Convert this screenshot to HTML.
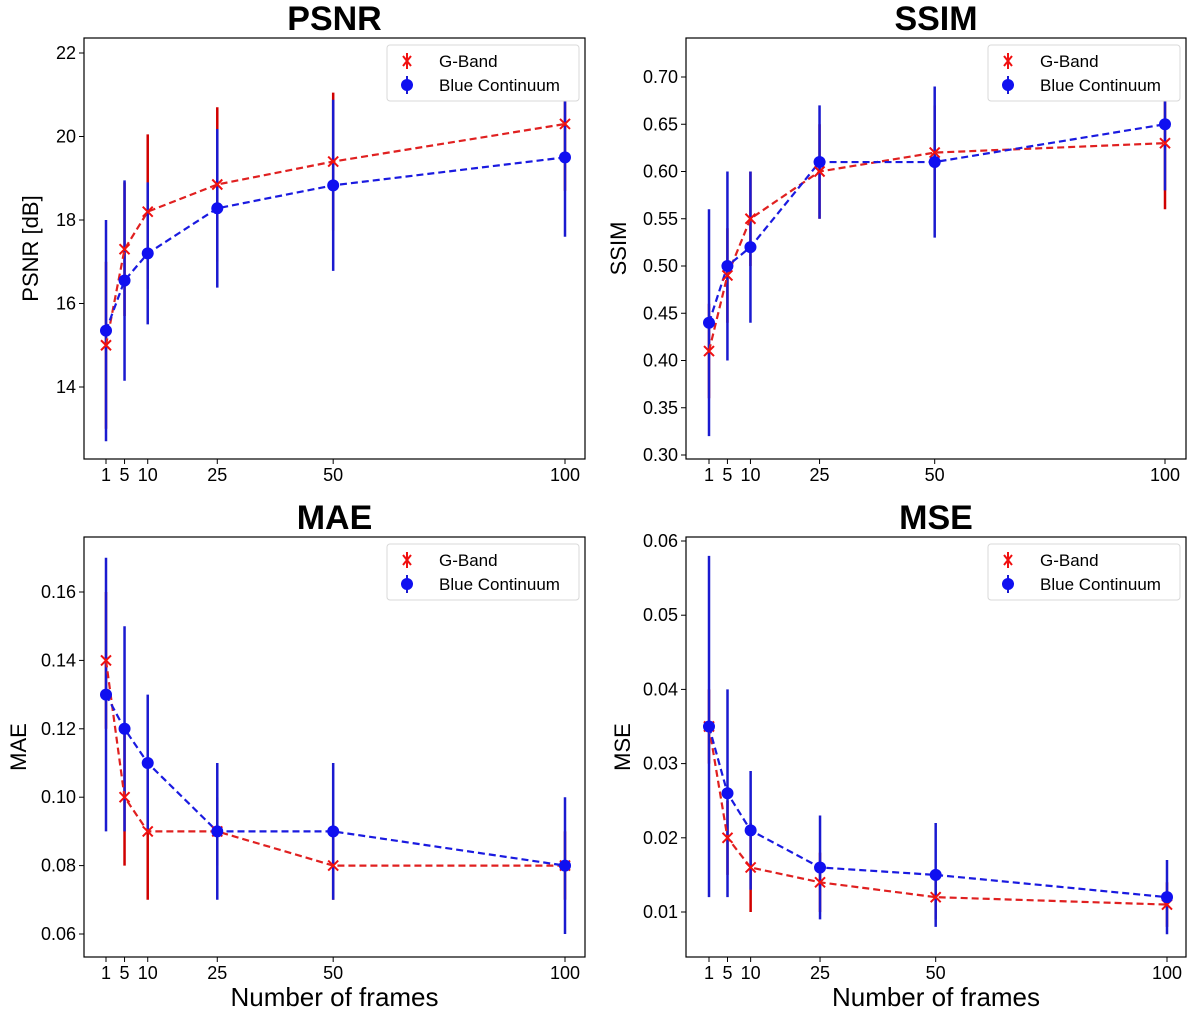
<!DOCTYPE html>
<html><head><meta charset="utf-8"><style>
body{margin:0;background:#fff;font-family:"Liberation Sans",sans-serif}
svg text{font-family:"Liberation Sans","DejaVu Sans",sans-serif}
</style></head><body>
<svg id="fig" width="1200" height="1018" viewBox="0 0 1200 1018" xmlns="http://www.w3.org/2000/svg"></svg>
<script>
const frames=[1,5,10,25,50,100];
const xTicks=[1,5,10,25,50,100];
const psnrG=[15.0,17.3,18.2,18.85,19.4,20.3];
const psnrGErr=[2.0,1.6,1.85,1.85,1.65,1.6];
const psnrB=[15.35,16.55,17.2,18.28,18.83,19.5];
const psnrBErr=[2.65,2.4,1.7,1.9,2.05,1.9];
const psnrTicks=[14,16,18,20,22];
const ssimG=[0.41,0.49,0.55,0.60,0.62,0.63];
const ssimGErr=[0.05,0.05,0.05,0.05,0.05,0.07];
const ssimB=[0.44,0.50,0.52,0.61,0.61,0.65];
const ssimBErr=[0.12,0.10,0.08,0.06,0.08,0.07];
const ssimTicks=[0.30,0.35,0.40,0.45,0.50,0.55,0.60,0.65,0.70];
const maeG=[0.14,0.10,0.09,0.09,0.08,0.08];
const maeGErr=[0.02,0.02,0.02,0.01,0.01,0.01];
const maeB=[0.13,0.12,0.11,0.09,0.09,0.08];
const maeBErr=[0.04,0.03,0.02,0.02,0.02,0.02];
const maeTicks=[0.06,0.08,0.10,0.12,0.14,0.16];
const mseG=[0.035,0.020,0.016,0.014,0.012,0.011];
const mseGErr=[0.005,0.005,0.006,0.004,0.003,0.003];
const mseB=[0.035,0.026,0.021,0.016,0.015,0.012];
const mseBErr=[0.023,0.014,0.008,0.007,0.007,0.005];
const mseTicks=[0.01,0.02,0.03,0.04,0.05,0.06];

const NS="http://www.w3.org/2000/svg";
const svg=document.getElementById('fig');
function el(t,a,p){const e=document.createElementNS(NS,t);for(const k in a)e.setAttribute(k,a[k]);(p||svg).appendChild(e);return e;}

function panel(o){
  const g=el('g',{});
  
  
  const X=v=>o.x1+(v-1)*(o.x100-o.x1)/99;
  const Y=v=>o.yA+(v-o.vA)*(o.yB-o.yA)/(o.vB-o.vA);
  const t=el('text',{x:(o.L+o.R)/2,y:o.T-8,'text-anchor':'middle','font-size':34,'font-weight':'bold'},g);t.textContent=o.title;
  
  
  xTicks.forEach(v=>{el('line',{x1:X(v),x2:X(v),y1:o.B,y2:o.B+5,stroke:'#000'},g);
    const s=el('text',{x:X(v),y:o.B+22,'text-anchor':'middle','font-size':18},g);s.textContent=v;
    
    });
  o.ticks.forEach(v=>{el('line',{x1:o.L-5,x2:o.L,y1:Y(v),y2:Y(v),stroke:'#000'},g);
    const s=el('text',{x:o.L-8,y:Y(v)+6,'text-anchor':'end','font-size':18},g);s.textContent=o.fmt(v);
    
    });
  const yl=el('text',{x:0,y:0,'text-anchor':'middle','font-size':22,transform:`translate(${o.ylx},${(o.T+o.B)/2}) rotate(-90)`},g);yl.textContent=o.ylabel;
  
  
  if(o.xlabel){const xl=el('text',{x:(o.L+o.R)/2,y:1006,'text-anchor':'middle','font-size':26},g);xl.textContent='Number of frames';
    
    }
  const clip='c'+o.name;
  const cp=el('clipPath',{id:clip},g);el('rect',{x:o.L,y:o.T,width:o.R-o.L,height:o.B-o.T},cp);
  const d=el('g',{'clip-path':`url(#${clip})`},g);
  frames.forEach((f,i)=>{const e=el('line',{x1:X(f),x2:X(f),y1:Y(o.g[i]-o.ge[i]),y2:Y(o.g[i]+o.ge[i]),stroke:'#d00000','stroke-width':2.5},d);
    
    });
  frames.forEach((f,i)=>{const e=el('line',{x1:X(f),x2:X(f),y1:Y(o.b[i]-o.be[i]),y2:Y(o.b[i]+o.be[i]),stroke:'#1a1ad0','stroke-width':2.5},d);
    
    });
  const pg=el('polyline',{points:frames.map((f,i)=>X(f)+','+Y(o.g[i])).join(' '),fill:'none',stroke:'#e02020','stroke-width':2.2,'stroke-dasharray':'7,4'},d);
  
  
  const pb=el('polyline',{points:frames.map((f,i)=>X(f)+','+Y(o.b[i])).join(' '),fill:'none',stroke:'#1a1ae0','stroke-width':2.2,'stroke-dasharray':'7,4'},d);
  
  
  frames.forEach((f,i)=>{const x=X(f),y=Y(o.g[i]);const p=el('path',{d:`M${x-5},${y-5}L${x+5},${y+5}M${x-5},${y+5}L${x+5},${y-5}`,stroke:'#f01010','stroke-width':2},d);
    
    });
  frames.forEach((f,i)=>{const c=el('circle',{cx:X(f),cy:Y(o.b[i]),r:6,fill:'#1010f0'},d);
    
    });
  el('rect',{x:o.L,y:o.T,width:o.R-o.L,height:o.B-o.T,fill:'none',stroke:'#000','stroke-width':1.2},g);
  const lg=el('g',{},g);
  
  
  const lx=o.R-198,ly=o.T+7;
  el('rect',{x:lx,y:ly,width:192,height:56,rx:3,fill:'#fff',stroke:'#d8d8d8'},lg);
  const mx=lx+20;
  el('path',{d:`M${mx-4},${ly+11}L${mx+4},${ly+21}M${mx-4},${ly+21}L${mx+4},${ly+11}M${mx},${ly+8}L${mx},${ly+24}`,stroke:'#f01010','stroke-width':2},lg);
  el('line',{x1:mx,x2:mx,y1:ly+31,y2:ly+49,stroke:'#1a1ad0','stroke-width':2},lg);
  el('circle',{cx:mx,cy:ly+40,r:6,fill:'#1010f0'},lg);
  const t1=el('text',{x:lx+52,y:ly+22,'font-size':17},lg);t1.textContent='G-Band';
  
  
  const t2=el('text',{x:lx+52,y:ly+46,'font-size':17},lg);t2.textContent='Blue Continuum';
  
  
}
panel({name:'psnr',title:'PSNR',L:84,R:585,T:38,B:459,x1:106,x100:565,vA:22,yA:53,vB:14,yB:387,ticks:psnrTicks,fmt:v=>v,ylabel:'PSNR [dB]',ylx:38,g:psnrG,ge:psnrGErr,b:psnrB,be:psnrBErr});
panel({name:'ssim',title:'SSIM',L:686,R:1186,T:38,B:459,x1:709,x100:1165,vA:0.70,yA:77,vB:0.30,yB:455,ticks:ssimTicks,fmt:v=>v.toFixed(2),ylabel:'SSIM',ylx:626,g:ssimG,ge:ssimGErr,b:ssimB,be:ssimBErr});
panel({name:'mae',title:'MAE',L:84,R:585,T:537,B:957,x1:106,x100:565,xlabel:1,vA:0.16,yA:592,vB:0.06,yB:934,ticks:maeTicks,fmt:v=>v.toFixed(2),ylabel:'MAE',ylx:26,g:maeG,ge:maeGErr,b:maeB,be:maeBErr});
panel({name:'mse',title:'MSE',L:686,R:1186,T:537,B:957,x1:709,x100:1167,xlabel:1,vA:0.06,yA:541,vB:0.01,yB:912,ticks:mseTicks,fmt:v=>v.toFixed(2),ylabel:'MSE',ylx:630,g:mseG,ge:mseGErr,b:mseB,be:mseBErr});
</script>
</body></html>
